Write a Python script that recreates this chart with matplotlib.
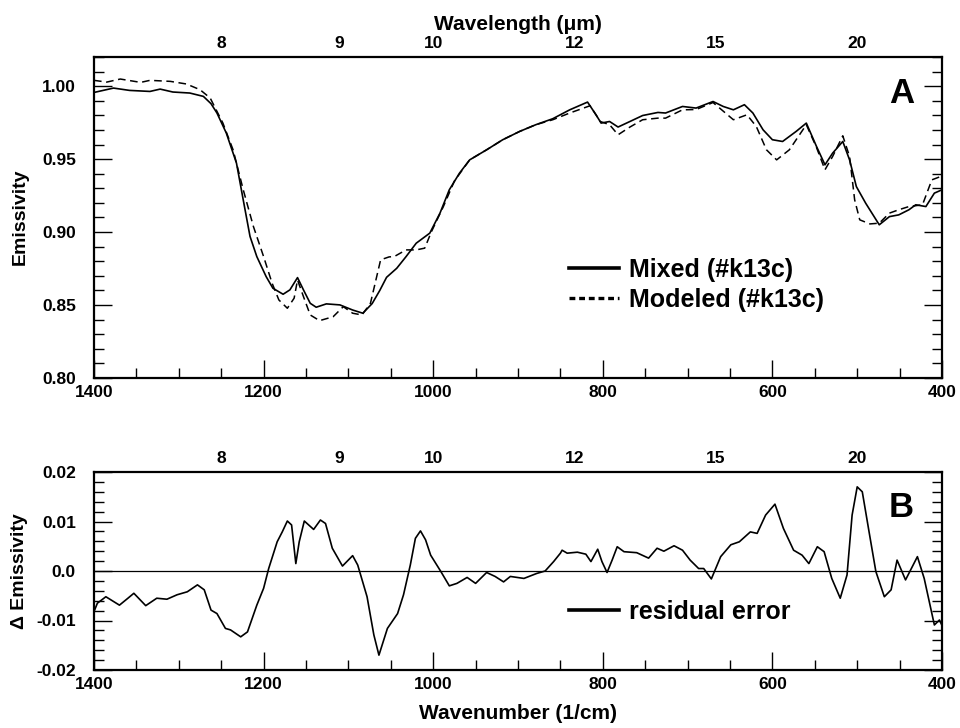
import matplotlib
matplotlib.use('Agg')
import matplotlib.pyplot as plt
from matplotlib.ticker import MultipleLocator, FuncFormatter
from matplotlib import font_manager

# ---------------- data ----------------
mixed_wn = [1400, 1377, 1358, 1334, 1322, 1307, 1287, 1271, 1262, 1255, 1244, 1232, 1224, 1216,
            1208, 1197, 1189, 1177, 1169, 1160, 1153, 1145, 1138, 1126, 1110, 1095, 1083, 1072,
            1063, 1055, 1043, 1032, 1020, 1004, 992, 981, 969, 957, 937, 918, 898, 879, 859, 839,
            818, 808, 802, 792, 782, 768, 753, 735, 726, 706, 690, 670, 658, 646, 633, 623, 611,
            600, 588, 572, 560, 548, 538, 529, 517, 509, 501, 490, 474, 462, 451, 439, 431, 419,
            409, 400]
mixed_em = [0.9957, 0.9987, 0.9971, 0.9964, 0.998, 0.996, 0.9953, 0.993, 0.988, 0.9816, 0.9679,
            0.9473, 0.922, 0.897, 0.8832, 0.8695, 0.8615, 0.8574, 0.8604, 0.8688, 0.8604, 0.8512,
            0.8485, 0.8508, 0.8501, 0.8466, 0.8444, 0.851, 0.860, 0.869, 0.8752, 0.8832, 0.8924,
            0.8993, 0.913, 0.929, 0.9404, 0.9495, 0.9564, 0.9633, 0.969, 0.9736, 0.9777, 0.9838,
            0.9891, 0.9804, 0.9747, 0.9758, 0.972, 0.9758, 0.9799, 0.982, 0.9816, 0.9861, 0.985,
            0.9895, 0.9861, 0.9838, 0.9873, 0.9816, 0.9701, 0.9633, 0.9621, 0.969, 0.9747, 0.9587,
            0.9461, 0.9541, 0.9621, 0.9495, 0.9312, 0.9198, 0.905, 0.9106, 0.9118, 0.9153, 0.9187,
            0.9175, 0.9267, 0.929]

model_wn = [1400, 1385, 1369, 1345, 1334, 1310, 1291, 1275, 1263, 1248, 1236, 1224, 1212, 1200,
            1190, 1182, 1172, 1164, 1160, 1153, 1145, 1134, 1118, 1106, 1095, 1084, 1074, 1062,
            1052, 1046, 1032, 1020, 1010, 1002, 988, 975, 957, 937, 918, 898, 879, 859, 839, 815,
            803, 792, 782, 768, 753, 735, 726, 706, 690, 670, 646, 630, 619, 607, 595, 580, 560,
            548, 538, 529, 517, 509, 503, 497, 485, 474, 462, 451, 439, 423, 412, 402, 400]
model_em = [1.004, 1.0028, 1.0049, 1.0026, 1.004, 1.0033, 1.0015, 0.9976, 0.9919, 0.9747, 0.9564,
            0.929, 0.9038, 0.8832, 0.865, 0.8535, 0.8478, 0.8547, 0.8672, 0.8558, 0.8432, 0.8393,
            0.842, 0.8489, 0.8444, 0.8432, 0.8512, 0.881, 0.883, 0.8832, 0.8878, 0.8878, 0.889,
            0.9004, 0.9175, 0.935, 0.9495, 0.9564, 0.9633, 0.969, 0.9736, 0.977, 0.9816, 0.9866,
            0.9758, 0.9736, 0.9667, 0.972, 0.977, 0.9781, 0.9781, 0.9838, 0.984, 0.9888, 0.977,
            0.9804, 0.9724, 0.9564, 0.9495, 0.9564, 0.9736, 0.958, 0.9427, 0.9518, 0.966, 0.9518,
            0.9221, 0.9084, 0.9056, 0.9061, 0.913, 0.9153, 0.9175, 0.9187, 0.9358, 0.938, 0.937]

resid_wn = [1400, 1396, 1386, 1370, 1360, 1353, 1339, 1326, 1314, 1302, 1290, 1278, 1270, 1262,
            1255, 1245, 1239, 1227, 1219, 1208, 1200, 1194, 1184, 1178, 1172, 1167, 1162, 1158,
            1152, 1141, 1133, 1127, 1119, 1107, 1095, 1089, 1078, 1070, 1064, 1054, 1042, 1035,
            1027, 1021, 1015, 1009, 1003, 991, 981, 972, 960, 950, 937, 927, 917, 909, 893, 878,
            868, 858, 850, 848, 842, 830, 820, 814, 806, 801, 795, 789, 783, 775, 760, 746, 736,
            728, 716, 706, 697, 687, 681, 672, 661, 649, 639, 626, 618, 608, 597, 587, 575, 565,
            557, 547, 539, 530, 520, 512, 506, 500, 494, 486, 478, 468, 460, 453, 443, 429, 421,
            415, 409, 403, 400]
resid_val = [-0.0082, -0.0065, -0.0052, -0.0069, -0.0055, -0.0045, -0.007, -0.0055, -0.0057,
             -0.0048, -0.0042, -0.0028, -0.0038, -0.0079, -0.0086, -0.0116, -0.0119, -0.0133,
             -0.0123, -0.0069, -0.0035, 0.0005, 0.0059, 0.0079, 0.0101, 0.0093, 0.0015, 0.0059,
             0.0101, 0.0084, 0.0103, 0.0096, 0.0046, 0.001, 0.0031, 0.0012, -0.0052, -0.0129,
             -0.017, -0.0116, -0.0086, -0.0048, 0.0012, 0.0066, 0.0081, 0.0063, 0.0032, -0.0001,
             -0.003, -0.0025, -0.0013, -0.0025, -0.0003, -0.0011, -0.0022, -0.0011, -0.0015,
             -0.0005, 0.0, 0.0019, 0.0036, 0.0042, 0.0036, 0.0038, 0.0034, 0.0019, 0.0044, 0.0019,
             -0.0003, 0.0022, 0.0049, 0.0039, 0.0037, 0.0026, 0.0046, 0.004, 0.0051, 0.0042,
             0.0022, 0.0005, 0.0005, -0.0016, 0.0029, 0.0053, 0.0059, 0.0079, 0.0076, 0.0113,
             0.0135, 0.0086, 0.0042, 0.0032, 0.0015, 0.0049, 0.0039, -0.0015, -0.0055, -0.0008,
             0.0113, 0.017, 0.016, 0.0079, -0.0001, -0.0052, -0.0038, 0.0022, -0.0018, 0.0029,
             -0.0015, -0.0062, -0.0109, -0.0099, -0.011]

wavelength_labels = [8, 9, 10, 12, 15, 20]
emis_ticklabels = ['0.80', '0.85', '0.90', '0.95', '1.00']
resid_ticklabels = ['-0.02', '-0.01', '0.0', '0.01', '0.02']

# ---------------- fonts ----------------
names = {f.name for f in font_manager.fontManager.ttflist}
narrow = 'Liberation Sans Narrow' if 'Liberation Sans Narrow' in names else 'Liberation Sans'
plt.rcParams['font.family'] = [narrow, 'Liberation Sans', 'DejaVu Sans']
plt.rcParams['font.weight'] = 'bold'
plt.rcParams['axes.unicode_minus'] = False
plt.rcParams['axes.linewidth'] = 1.6

fig = plt.figure(figsize=(9.6, 7.28), dpi=100)
L, R = 94 / 960, 942 / 960
axA = fig.add_axes([L, 1 - 378 / 728, R - L, (378 - 57) / 728])
axB = fig.add_axes([L, 1 - 670 / 728, R - L, (670 - 472) / 728])

tick_fs = 12.5


def style_axis(ax, ymajor, yminor, ylabels, ylo, yhi):
    ax.set_xlim(1400, 400)
    ax.set_ylim(ylo, yhi)
    ax.xaxis.set_major_locator(MultipleLocator(200))
    ax.xaxis.set_minor_locator(MultipleLocator(50))
    ax.yaxis.set_major_locator(MultipleLocator(ymajor))
    ax.yaxis.set_minor_locator(MultipleLocator(yminor))
    ax.tick_params(which='both', direction='in', top=True, right=True, width=1.0,
                   labelsize=tick_fs)
    ax.tick_params(which='major', length=13)
    ax.tick_params(which='minor', length=7)
    ax.tick_params(axis='x', pad=5)
    ax.tick_params(axis='y', pad=13)
    ax.xaxis.set_major_formatter(FuncFormatter(lambda v, p: f'{v:.0f}'))
    ax.set_yticks([ylo + i * ymajor for i in range(len(ylabels))])
    ax.set_yticklabels(ylabels)
    for lab in ax.get_xticklabels() + ax.get_yticklabels():
        lab.set_fontweight('bold')
    top = ax.twiny()
    top.set_xlim(ax.get_xlim())
    top.set_xticks([10000 / w for w in wavelength_labels])
    top.set_xticklabels([str(w) for w in wavelength_labels])
    top.tick_params(axis='x', length=0, pad=4, labelsize=tick_fs)
    top.xaxis.set_minor_locator(plt.NullLocator())
    for s in top.spines.values():
        s.set_visible(False)
    return top


topA = style_axis(axA, 0.05, 0.01, emis_ticklabels, 0.80, 1.02)
topB = style_axis(axB, 0.01, 0.002, resid_ticklabels, -0.02, 0.02)

leg_prop = {'family': 'Liberation Sans', 'weight': 'bold', 'size': 18}

# ---------------- panel A ----------------
axA.plot(mixed_wn, mixed_em, color='black', lw=1.2, label='Mixed (#k13c)')
axA.plot(model_wn, model_em, color='black', lw=1.1, ls=(0, (5, 3)), label='Modeled (#k13c)')
legA = axA.legend(loc='center left', bbox_to_anchor=(0.545, 0.29), frameon=False,
                  handlelength=2.0, handletextpad=0.42, labelspacing=0.22, borderpad=0,
                  prop=leg_prop)
hA = legA.get_lines()
hA[0].set_linewidth(2.6)
hA[1].set_linewidth(2.4)
hA[1].set_linestyle((0, (1.75, 1.15)))
axA.text(0.952, 0.885, 'A', transform=axA.transAxes, ha='center', va='center',
         fontsize=25, fontweight='bold', family='Liberation Sans')
fig.text(20 / 960, 1 - 217 / 728, 'Emissivity', rotation=90, ha='center', va='center',
         fontsize=14, fontweight='bold')
topA.set_xlabel('Wavelength (\u03bcm)', fontsize=15, fontweight='bold')
topA.xaxis.set_label_coords(0.5, 1.085)

# ---------------- panel B ----------------
axB.axhline(0.0, color='black', lw=0.9)
axB.plot(resid_wn, resid_val, color='black', lw=1.2, label='residual error')
legB = axB.legend(loc='center left', bbox_to_anchor=(0.545, 0.293), frameon=False,
                  handlelength=2.0, handletextpad=0.42, borderpad=0, prop=leg_prop)
for h in legB.get_lines():
    h.set_linewidth(2.6)
axB.text(0.952, 0.823, 'B', transform=axB.transAxes, ha='center', va='center',
         fontsize=25, fontweight='bold', family='Liberation Sans')
fig.text(20 / 960, 1 - 571 / 728, '\u0394 Emissivity', rotation=90, ha='center', va='center',
         fontsize=14, fontweight='bold')
axB.set_xlabel('Wavenumber (1/cm)', fontsize=15, fontweight='bold')
axB.xaxis.set_label_coords(0.5, -0.17)

fig.savefig('out.png', dpi=100)
